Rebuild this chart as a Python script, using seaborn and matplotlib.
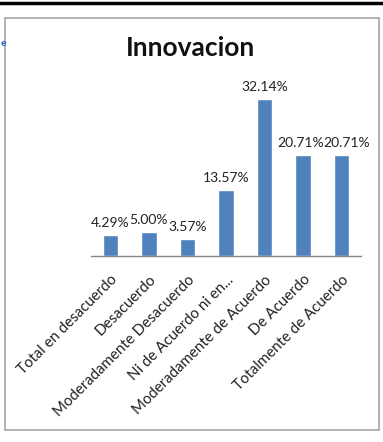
import matplotlib
matplotlib.use("Agg")
import matplotlib.pyplot as plt
import seaborn as sns
import pandas as pd
from matplotlib.patches import Rectangle
from matplotlib.lines import Line2D

categories = ["Total en desacuerdo", "Desacuerdo", "Moderadamente Desacuerdo",
              "Ni de Acuerdo ni en...", "Moderadamente de Acuerdo", "De Acuerdo",
              "Totalmente de Acuerdo"]
values = [4.29, 5.00, 3.57, 13.57, 32.14, 20.71, 20.71]
title = "Innovacion"

sns.set_theme(style="white")
plt.rcParams['font.family'] = ['Lato', 'DejaVu Sans']

df = pd.DataFrame({"cat": categories, "val": values})

fig = plt.figure(figsize=(3.83, 4.42), dpi=100)
W, H = 383, 442
ax = fig.add_axes([91 / W, 1 - 256 / H, 270 / W, 171 / H])

sns.barplot(data=df, x="cat", y="val", color="#4f81bd", width=0.4,
            saturation=1, ax=ax)
ax.set_ylim(0, 35)
ax.set_xlim(-0.5, len(categories) - 0.5)
ax.set_xlabel("")
ax.set_ylabel("")
ax.set_yticks([])
for s in ["top", "left", "right"]:
    ax.spines[s].set_visible(False)
ax.spines["bottom"].set_color("#868686")
ax.spines["bottom"].set_linewidth(1.0)
ax.tick_params(axis="x", length=0, pad=12)
ax.set_xticks(range(len(categories)))
ax.set_xticklabels(categories, rotation=45, ha="right", rotation_mode="anchor",
                   fontsize=10.8, color="#222222")

# value labels; the two equal neighbours are nudged apart so they don't collide
nudge = [0, 0, 0, 0, 0, -3, 5]
for p, v, dx in zip(ax.patches, values, nudge):
    ax.annotate(f"{v:.2f}%", (p.get_x() + p.get_width() / 2, p.get_height()),
                xytext=(dx, 6), textcoords="offset pixels", ha="center",
                va="bottom", fontsize=10, color="#222222")

fig.text(191 / W, 1 - 48 / H, title, ha="center", va="center",
         fontsize=19, fontweight="bold", color="#111111")

# chart frame and page decorations
fig.patches.append(Rectangle((5 / W, 1 - 430 / H), 374 / W, 412 / H,
                             transform=fig.transFigure, fill=False,
                             edgecolor="#a6a6a6", linewidth=1.2))
fig.lines.append(Line2D([0, 1], [1 - 3 / H, 1 - 3 / H], transform=fig.transFigure,
                        color="black", linewidth=2.5))
fig.text(0.5 / W, 1 - 43 / H, "e", ha="left", va="center", fontsize=7.5,
         fontweight="bold", color="#1f5fbf")

fig.savefig("out.png", dpi=100)
